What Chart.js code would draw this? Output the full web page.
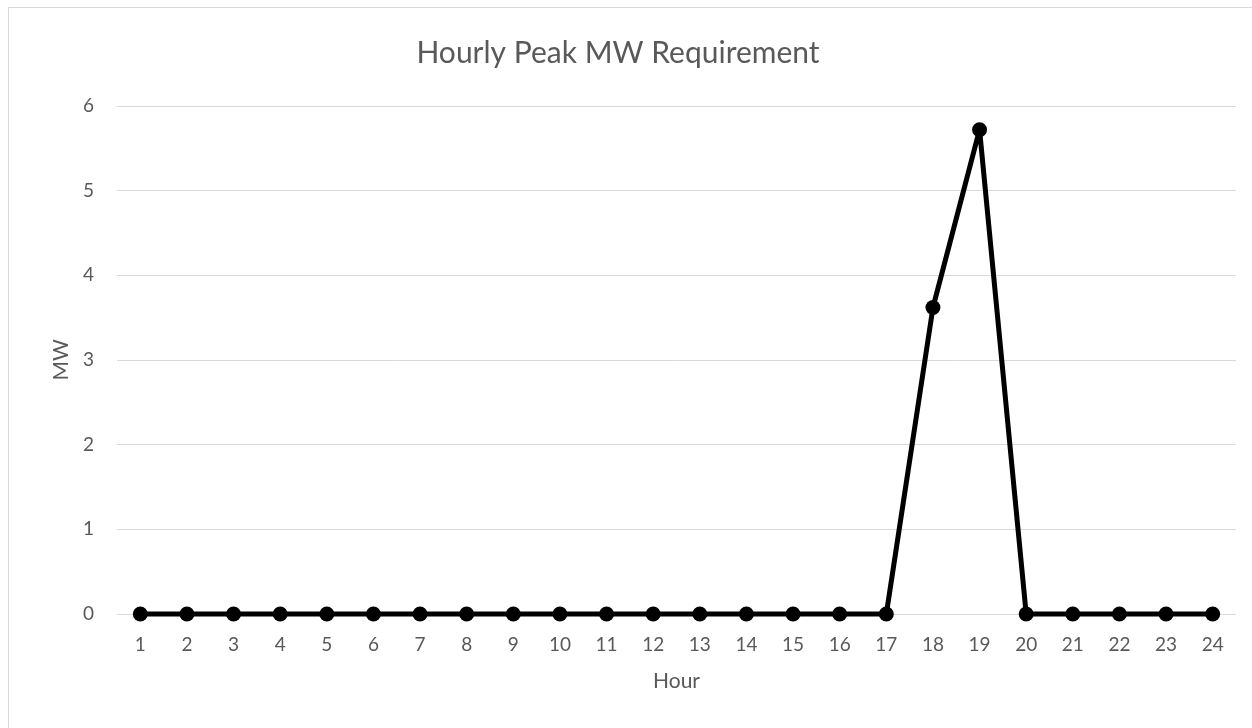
<!DOCTYPE html>
<html>
<head>
<meta charset="utf-8">
<script src="https://cdn.jsdelivr.net/npm/chart.js@4.4.1/dist/chart.umd.min.js"></script>
<style>
    html, body { margin: 0; padding: 0; background: #ffffff; overflow: hidden; }
    #frame {
        position: absolute; left: 8px; top: 7px;
        width: 1400px; height: 900px;
        border: 1px solid #d9d9d9;
    }
    #wrap { position: absolute; left: 0; top: 0; width: 1252px; height: 728px; }
</style>
</head>
<body>
<div id="frame"></div>
<div id="wrap"><canvas id="chartCanvas"></canvas></div>
<script>
// chart data
const hours = ['1', '2', '3', '4', '5', '6', '7', '8', '9', '10', '11', '12',
               '13', '14', '15', '16', '17', '18', '19', '20', '21', '22', '23', '24'];
const peakMW = [0, 0, 0, 0, 0, 0, 0, 0, 0, 0, 0, 0,
                0, 0, 0, 0, 0, 3.62, 5.72, 0, 0, 0, 0, 0];
const yTicks = [0, 1, 2, 3, 4, 5, 6];

const textColor = '#595959';
const fontFamily = "Lato, 'Liberation Sans', sans-serif";

window.onload = function() {
    const ctx = document.getElementById('chartCanvas').getContext('2d');
    new Chart(ctx, {
        type: 'line',
        data: {
            labels: hours,
            datasets: [{
                label: 'MW',
                data: peakMW,
                borderColor: '#000000',
                backgroundColor: '#000000',
                borderWidth: 5,
                borderJoinStyle: 'round',
                borderCapStyle: 'round',
                pointRadius: 7.5,
                pointBorderWidth: 0,
                tension: 0,
                fill: false,
                clip: false
            }]
        },
        options: {
            responsive: true,
            maintainAspectRatio: false,
            animation: false,
            layout: { padding: { left: 0, right: 16, top: 0, bottom: 0 } },
            scales: {
                x: {
                    offset: true,
                    grid: { display: false, drawTicks: false },
                    border: { display: false },
                    ticks: { color: textColor, padding: 19, font: { family: fontFamily, size: 19 } },
                    title: {
                        display: true,
                        text: 'Hour',
                        color: textColor,
                        font: { family: fontFamily, size: 21 },
                        padding: { top: 0, bottom: 34 }
                    },
                    afterFit: function(scale) { scale.height = 114; }
                },
                y: {
                    min: 0,
                    max: 6,
                    afterBuildTicks: function(scale) {
                        scale.ticks = yTicks.map(v => ({ value: v }));
                    },
                    grid: { color: '#d9d9d9', lineWidth: 1, drawTicks: false },
                    border: { display: false },
                    ticks: { color: textColor, padding: 23, font: { family: fontFamily, size: 19 } },
                    title: {
                        display: true,
                        text: 'MW',
                        color: textColor,
                        font: { family: fontFamily, size: 21 },
                        padding: { top: 49, bottom: 0 }
                    },
                    afterFit: function(scale) { scale.width = 117; }
                }
            },
            plugins: {
                legend: { display: false },
                tooltip: { enabled: false },
                title: {
                    display: true,
                    text: 'Hourly Peak MW Requirement',
                    color: textColor,
                    font: { family: fontFamily, size: 30, weight: 'normal' },
                    padding: { top: 35, bottom: 35 }
                }
            }
        }
    });
};
</script>
</body>
</html>
